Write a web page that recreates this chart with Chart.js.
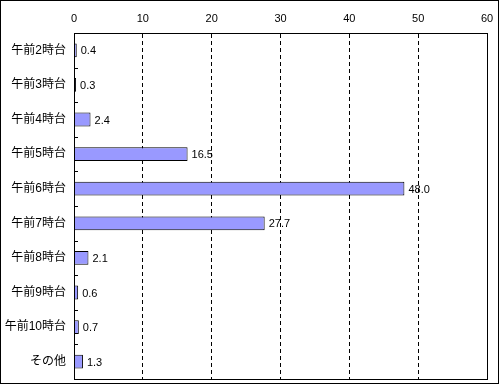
<!DOCTYPE html>
<html>
<head>
<meta charset="utf-8">
<script src="https://cdn.jsdelivr.net/npm/chart.js@4"></script>
<style>
  html, body { margin: 0; padding: 0; background: #fff; }
  #wrap { width: 500px; height: 385px; }
</style>
</head>
<body>
<div id="wrap"><canvas id="timeChart" width="500" height="385"></canvas></div>
<script>
// データ
const categories = ['午前2時台', '午前3時台', '午前4時台', '午前5時台', '午前6時台',
                    '午前7時台', '午前8時台', '午前9時台', '午前10時台', 'その他'];
const values = [0.4, 0.3, 2.4, 16.5, 48.0, 27.7, 2.1, 0.6, 0.7, 1.3];
const xTicks = [0, 10, 20, 30, 40, 50, 60];

const FONT = '"Liberation Sans", "Noto Sans CJK JP", sans-serif';

// 外枠・プロット枠・内向き目盛り
const framePlugin = {
    id: 'frame',
    afterDraw(chart) {
        const c = chart.ctx;
        const a = chart.chartArea;
        const ys = chart.scales.y;
        c.save();
        c.strokeStyle = '#000';
        c.lineWidth = 1;
        c.strokeRect(0.5, 0.5, 498, 383);
        c.strokeRect(Math.round(a.left) + 0.5, Math.round(a.top) + 0.5,
                     Math.round(a.right - a.left), Math.round(a.bottom - a.top));
        for (let i = 0; i <= categories.length; i++) {
            const y = Math.round(ys.getPixelForValue(i - 0.5)) + 0.5;
            c.beginPath();
            c.moveTo(a.left, y);
            c.lineTo(a.left + 4, y);
            c.stroke();
        }
        c.restore();
    }
};

// 値ラベル
const valueLabels = {
    id: 'valueLabels',
    afterDatasetsDraw(chart) {
        const c = chart.ctx;
        const meta = chart.getDatasetMeta(0);
        c.save();
        c.font = '11px ' + FONT;
        c.fillStyle = '#000';
        c.textBaseline = 'middle';
        c.textAlign = 'left';
        meta.data.forEach((bar, i) => {
            c.fillText(values[i].toFixed(1), bar.x + 4, bar.y + 1);
        });
        c.restore();
    }
};

function noPad(s) {
    s.paddingLeft = 0;
    s.paddingRight = 0;
    s.paddingTop = 0;
    s.paddingBottom = 0;
}

const ctx = document.getElementById('timeChart').getContext('2d');
new Chart(ctx, {
    type: 'bar',
    data: {
        labels: categories,
        datasets: [{
            data: values,
            backgroundColor: '#9999ff',
            borderColor: '#000',
            borderWidth: 1,
            borderSkipped: false,
            barPercentage: 0.8,
            categoryPercentage: 0.5
        }]
    },
    options: {
        indexAxis: 'y',
        responsive: false,
        animation: false,
        layout: { padding: { left: 0, top: 0, right: 13, bottom: 6 } },
        plugins: { legend: { display: false }, tooltip: { enabled: false } },
        scales: {
            x: {
                position: 'top',
                min: 0,
                max: 60,
                afterBuildTicks: s => { s.ticks = xTicks.map(v => ({ value: v })); },
                afterFit: s => { s.height = 33; noPad(s); },
                ticks: { color: '#000', font: { family: FONT, size: 11 }, padding: 7, maxRotation: 0 },
                grid: {
                    color: '#000',
                    drawTicks: false,
                    lineWidth: ctx => (ctx.tick && (ctx.tick.value === 0 || ctx.tick.value === 60)) ? 0 : 1
                },
                border: { display: true, color: '#000', dash: [4, 3] }
            },
            y: {
                afterFit: s => { s.width = 74; noPad(s); },
                ticks: { color: '#000', font: { family: FONT, size: 12 }, padding: 8 },
                grid: { display: false, drawTicks: false },
                border: { display: false }
            }
        }
    },
    plugins: [framePlugin, valueLabels]
});
</script>
</body>
</html>
